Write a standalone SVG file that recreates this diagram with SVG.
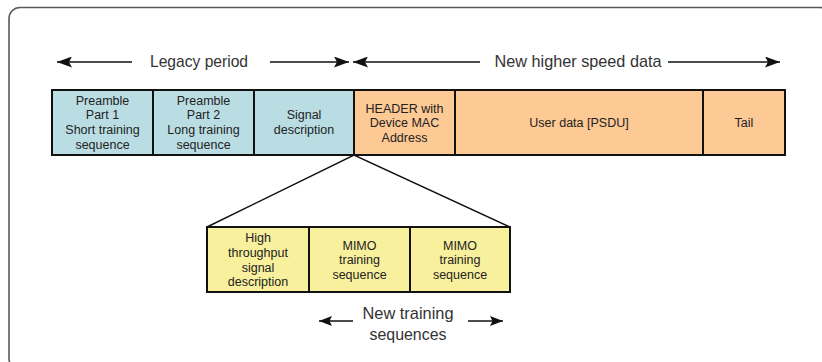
<svg xmlns="http://www.w3.org/2000/svg" width="822" height="362" viewBox="0 0 822 362">
<defs>
<style>
.frame{fill:none;stroke:#5a5a5a;stroke-width:1.6}
.box{stroke:#111;stroke-width:2}
.teal{fill:#b9dde2}
.orange{fill:#fdc994}
.yellow{fill:#f8f09c}
.t{font-family:"Liberation Sans",Arial,sans-serif;font-size:12.5px;fill:#222;text-anchor:middle}
.big{font-family:"Liberation Sans",Arial,sans-serif;font-size:17px;fill:#333;text-anchor:middle}
.conn{stroke:#111;stroke-width:1.5;fill:none}
.ah{stroke:#111;stroke-width:1.6;fill:none}
</style>
<marker id="arr" markerUnits="userSpaceOnUse" markerWidth="15" markerHeight="11" refX="15" refY="5.5" orient="auto">
<path d="M0,0 L15,5.5 L0,11 L3,5.5 z" fill="#111"/>
</marker>
<marker id="arrs" markerUnits="userSpaceOnUse" markerWidth="13" markerHeight="10" refX="13" refY="5" orient="auto">
<path d="M0,0 L13,5 L0,10 L2.5,5 z" fill="#111"/>
</marker>
</defs>
<rect class="frame" x="9" y="7.5" width="822" height="362" rx="11"/>

<g id="connectors">
<line class="ah" x1="132" y1="62" x2="57" y2="62" marker-end="url(#arr)"/>
<line class="ah" x1="270" y1="62" x2="349" y2="62" marker-end="url(#arr)"/>
<line class="ah" x1="480" y1="62" x2="353" y2="62" marker-end="url(#arr)"/>
<line class="ah" x1="668" y1="62" x2="780" y2="62" marker-end="url(#arr)"/>
<line class="ah" x1="353" y1="321" x2="319" y2="321" marker-end="url(#arrs)"/>
<line class="ah" x1="468" y1="321" x2="503" y2="321" marker-end="url(#arrs)"/>
<polyline class="conn" points="207,227 354,155 510,227"/>
</g>

<g id="label-legacy"><text class="big" x="199" y="67" textLength="98" lengthAdjust="spacingAndGlyphs">Legacy period</text></g>
<g id="label-new"><text class="big" x="578" y="67" textLength="167" lengthAdjust="spacingAndGlyphs">New higher speed data</text></g>
<g id="label-training"><text class="big" x="408" y="319" textLength="91" lengthAdjust="spacingAndGlyphs">New training</text><text class="big" x="408" y="340" textLength="77" lengthAdjust="spacingAndGlyphs">sequences</text></g>

<g id="preamble1">
<rect class="box teal" x="52" y="90" width="101" height="65"/>
<text class="t" x="102.5" y="104.5">Preamble</text>
<text class="t" x="102.5" y="119.3">Part 1</text>
<text class="t" x="102.5" y="134">Short training</text>
<text class="t" x="102.5" y="148.8">sequence</text>
</g>
<g id="preamble2">
<rect class="box teal" x="153" y="90" width="101" height="65"/>
<text class="t" x="203.5" y="104.5">Preamble</text>
<text class="t" x="203.5" y="119.3">Part 2</text>
<text class="t" x="203.5" y="134">Long training</text>
<text class="t" x="203.5" y="148.8">sequence</text>
</g>
<g id="signal">
<rect class="box teal" x="254" y="90" width="100" height="65"/>
<text class="t" x="304" y="119">Signal</text>
<text class="t" x="304" y="133.5">description</text>
</g>
<g id="header">
<rect class="box orange" x="354" y="90" width="101" height="65"/>
<text class="t" x="404.5" y="112.5">HEADER with</text>
<text class="t" x="404.5" y="127">Device MAC</text>
<text class="t" x="404.5" y="141.5">Address</text>
</g>
<g id="userdata">
<rect class="box orange" x="455" y="90" width="248" height="65"/>
<text class="t" x="579" y="127">User data [PSDU]</text>
</g>
<g id="tail">
<rect class="box orange" x="703" y="90" width="82" height="65"/>
<text class="t" x="744" y="127">Tail</text>
</g>

<g id="ht-signal">
<rect class="box yellow" x="207" y="227" width="102" height="65"/>
<text class="t" x="258" y="242">High</text>
<text class="t" x="258" y="256.8">throughput</text>
<text class="t" x="258" y="271.5">signal</text>
<text class="t" x="258" y="286">description</text>
</g>
<g id="mimo1">
<rect class="box yellow" x="309" y="227" width="101" height="65"/>
<text class="t" x="359.5" y="249.5">MIMO</text>
<text class="t" x="359.5" y="264">training</text>
<text class="t" x="359.5" y="278.5">sequence</text>
</g>
<g id="mimo2">
<rect class="box yellow" x="410" y="227" width="100" height="65"/>
<text class="t" x="460" y="249.5">MIMO</text>
<text class="t" x="460" y="264">training</text>
<text class="t" x="460" y="278.5">sequence</text>
</g>
</svg>
